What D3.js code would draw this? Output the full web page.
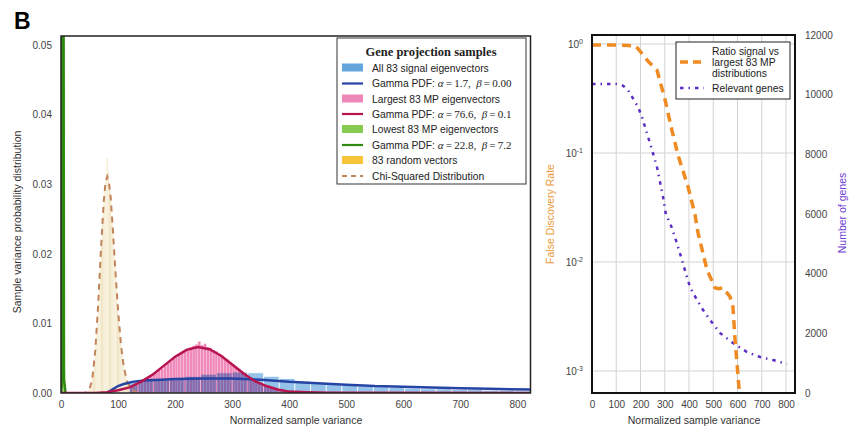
<!DOCTYPE html>
<html><head><meta charset="utf-8">
<script src="https://cdn.jsdelivr.net/npm/d3@7"></script>
<style>
body{margin:0;background:#fff;}
svg{font-family:"Liberation Sans",Arial,sans-serif;background:#fff;}
</style></head><body>
<svg id="c" width="858" height="432"></svg>
<script>
// ---------------- DATA ----------------
// Left panel: histograms (bin edges + densities)
const blueEdges = [80,107.5,135,162.5,190,217.5,245,272.5,300,327.5,355,382.5,410,437.5,465,492.5,520,547.5,575,602.5,630,657.5,685,712.5,740,767.5,795,822.5];
const blueHeights = [0.0009,0.0016,0.0018,0.0019,0.0020,0.0024,0.0027,0.0029,0.0030,0.0029,0.0024,0.0021,0.0016,0.0014,0.0012,0.0011,0.0010,0.0009,0.0008,0.0007,0.0006,0.0006,0.0005,0.0005,0.0004,0.0004,0.0003];

const pinkEdges = [100,105,110,115,120,125,130,135,140,145,150,155,160,165,170,175,180,185,190,195,200,205,210,215,220,225,230,235,240,245,250,255,260,265,270,275,280,285,290,295,300,305,310,315,320,325,330,335,340,345,350,355,360,365,370,375,380,385,390,395,400,405,410,415,420,425,430,435,440,445,450];
const pinkHeights = [0.0004,0.0005,0.0006,0.0007,0.0009,0.0010,0.0012,0.0013,0.0016,0.0018,
0.0021,0.0023,0.0027,0.0029,0.0033,0.0035,0.0039,0.0043,0.0045,0.0049,
0.0051,0.0055,0.0058,0.0060,0.0063,0.0066,0.0068,0.0070,0.0074,0.0069,
0.0071,0.0066,0.0065,0.0062,0.0060,0.0056,0.0054,0.0050,0.0048,0.0044,
0.0041,0.0038,0.0035,0.0031,0.0029,0.0025,0.0023,0.0020,0.0017,0.0015,
0.0013,0.0011,0.0010,0.0008,0.0007,0.0006,0.0005,0.0004,0.0003,0.0003,
0.0002,0.0002,0.0002,0.0001,0.0001,0.0001,0.0001,0.0001,0.0001,0.0001];

const greenEdges = [0,2.5,5,7.5];
const greenHeights = [0.3,0.5,0.003];

const randEdges = [46,48,50,52,54,56,58,60,62,64,66,68,70,72,74,76,78,80,82,84,86,88,90,92,94,96,98,100,102,104,106,108,110,112,114,116,118,120];
const randHeights = [0.0002,0.0005,0.0009,0.0014,0.0022,0.0032,0.0050,0.0068,0.0092,0.0120,
0.0150,0.0185,0.0215,0.0250,0.0272,0.0295,0.0310,0.0338,0.0318,0.0300,
0.0282,0.0255,0.0238,0.0205,0.0182,0.0158,0.0130,0.0110,0.0090,0.0072,
0.0058,0.0044,0.0034,0.0025,0.0019,0.0013,0.0009];

// Left panel: fitted curves
const blueCurveX = [80,90,100,110,125,145,175,200,250,300,350,400,450,500,550,600,650,700,750,823];
const blueCurveY = [0,0.0005,0.0010,0.0013,0.0016,0.0018,0.0019,0.0020,0.0021,0.0021,0.0019,0.0016,0.0014,0.0012,0.0010,0.0009,0.0008,0.0007,0.0006,0.0005];
const redCurveX = [0,60,80,100,120,140,160,180,200,220,240,260,280,300,320,340,360,380,400,430,470,823];
const redCurveY = [0,0,0.0001,0.0004,0.0008,0.0016,0.0026,0.0039,0.0052,0.0062,0.0066,0.0063,0.0054,0.0041,0.0028,0.0017,0.0010,0.0005,0.0002,0.0001,0.00003,0];
const greenCurveX = [0,1.2,1.8,2.4,3.1,3.8,4.5,5.2,8];
const greenCurveY = [0,0.001,0.06,0.4,0.6,0.4,0.06,0.002,0];
const chiX = [35,40,45,50,55,60,65,70,75,78,81,84,87,90,95,100,105,110,115,120,130,140,160];
const chiY = [0,0.00001,0.0001,0.00055,0.0021,0.0060,0.0125,0.0206,0.0276,0.0302,0.0311,0.0303,0.0282,0.0246,0.0180,0.0119,0.0070,0.0038,0.0019,0.0009,0.00015,0.00002,0];

const leftYTicks = [0,0.01,0.02,0.03,0.04,0.05];
const xTicks = [0,100,200,300,400,500,600,700,800];

const legendTitle = "Gene projection samples";
const legendLabels = ["All 83 signal eigenvectors","Gamma PDF: ","Largest 83 MP eigenvectors","Gamma PDF: ","Lowest 83 MP eigenvectors","Gamma PDF: ","83 random vectors","Chi-Squared Distribution"];
const gammaAlpha = ["1.7","76.6","22.8"];
const gammaBeta = ["0.00","0.1","7.2"];

// Right panel
const fdrX = [0,50,100,150,180,200,230,268,301,330,355,396,425,437,474,507,520,540,569,581,590,598,606,612];
const fdrY = [0.98,0.98,0.98,0.97,0.96,0.85,0.70,0.575,0.31,0.16,0.095,0.049,0.027,0.0186,0.0085,0.0058,0.0057,0.0058,0.0048,0.0039,0.0019,0.00117,0.0007,0.0005];
const genesX = [0,50,100,128,148,190,206,239,268,293,305,322,342,371,383,404,433,458,487,528,581,639,693,746,804];
const genesY = [10360,10360,10360,10300,10157,9587,9251,8380,7575,6570,5966,5698,5229,4458,4123,3553,3117,2782,2447,2011,1676,1374,1207,1106,972];
const logTicks = [1,0.1,0.01,0.001];
const logTickExp = ["0","-1","-2","-3"];
const genesTicks = [0,2000,4000,6000,8000,10000,12000];
const rightLegend1 = ["Ratio signal vs","largest 83 MP","distributions"];
const rightLegend2 = "Relevant genes";

// ---------------- DRAW ----------------
const svg = d3.select("#c");
const defs = svg.append("defs");
const L = {l:61,r:530.5,t:36,b:393};
const R = {l:592,r:795,t:35,b:393};
defs.append("clipPath").attr("id","clipL").append("rect").attr("x",L.l).attr("y",L.t).attr("width",L.r-L.l).attr("height",L.b-L.t);
defs.append("clipPath").attr("id","clipR").append("rect").attr("x",R.l).attr("y",R.t).attr("width",R.r-R.l).attr("height",R.b-R.t);

const xL = d3.scaleLinear().domain([0,823]).range([L.l,L.r]);
const yL = d3.scaleLinear().domain([0,0.0513]).range([L.b,L.t]);

const C = {
  blue:"#3d8fd6", pink:"#e7529b", green:"#86cc52", yellow:"#f7c53a", beige:"#eee0b6",
  blueLine:"#2544a3", redLine:"#b8144f", greenLine:"#2f8a10", chi:"#c2845a",
  orange:"#ef8b22", purple:"#5b2dc4"
};

const gL = svg.append("g").attr("clip-path","url(#clipL)");
function bars(g, edges, heights, fill, op, stroke, sw){
  g.selectAll(null).data(heights).enter().append("rect")
    .attr("x",(d,i)=>xL(edges[i]))
    .attr("width",(d,i)=>Math.max(0.3,xL(edges[i+1])-xL(edges[i])))
    .attr("y",d=>yL(d))
    .attr("height",d=>yL(0)-yL(d))
    .attr("fill",fill).attr("fill-opacity",op)
    .attr("stroke",stroke||"none").attr("stroke-width",sw||0.6);
}
const gBlue = gL.append("g");
bars(gBlue, blueEdges, blueHeights, C.blue, 0.55, "#fff", 0.8);
const gPink = gL.append("g").style("mix-blend-mode","multiply");
bars(gPink, pinkEdges, pinkHeights, C.pink, 0.68, "#fff", 0.2);
bars(gL.append("g"), randEdges, randHeights, C.beige, 1, "#fff", 0.3);
bars(gL.append("g"), greenEdges, greenHeights, C.green, 0.9, null);

const lineL = d3.line().x(d=>xL(d[0])).y(d=>yL(d[1]));
gL.append("path").datum(d3.zip(greenCurveX,greenCurveY)).attr("d",lineL).attr("fill","none").attr("stroke",C.greenLine).attr("stroke-width",2.5);
gL.append("path").datum(d3.zip(chiX,chiY)).attr("d",lineL).attr("fill","none").attr("stroke",C.chi).attr("stroke-width",2).attr("stroke-dasharray","6,5");
gL.append("path").datum(d3.zip(blueCurveX,blueCurveY)).attr("d",lineL).attr("fill","none").attr("stroke",C.blueLine).attr("stroke-width",2.5);
gL.append("path").datum(d3.zip(redCurveX,redCurveY)).attr("d",lineL).attr("fill","none").attr("stroke",C.redLine).attr("stroke-width",2.5);

svg.append("rect").attr("x",L.l).attr("y",L.t).attr("width",L.r-L.l).attr("height",L.b-L.t).attr("fill","none").attr("stroke","#222").attr("stroke-width",1.5);

function styleAxis(g){
  g.select(".domain").remove();
  g.attr("font-family",'"Liberation Sans",Arial,sans-serif').attr("font-size",10);
  g.selectAll("text").attr("fill","#444");
}
svg.append("g").attr("transform",`translate(${L.l},0)`)
  .call(d3.axisLeft(yL).tickValues(leftYTicks).tickFormat(d3.format(".2f")).tickSize(0).tickPadding(9)).call(styleAxis);
svg.append("g").attr("transform",`translate(0,${L.b})`)
  .call(d3.axisBottom(xL).tickValues(xTicks).tickFormat(d3.format("d")).tickSize(0).tickPadding(8)).call(styleAxis);

svg.append("text").attr("transform","translate(21,222) rotate(-90)").attr("text-anchor","middle")
  .attr("font-size",10.5).attr("fill","#333").text("Sample variance probability distribution");
svg.append("text").attr("x",296).attr("y",424).attr("text-anchor","middle").attr("font-size",10.5).attr("fill","#333").text("Normalized sample variance");
svg.append("text").attr("x",14).attr("y",29).attr("font-size",23).attr("font-weight","bold").attr("fill","#000").text("B");

// left legend
const lg = svg.append("g");
lg.append("rect").attr("x",337).attr("y",38).attr("width",189).attr("height",146).attr("fill","#fff").attr("stroke","#333").attr("stroke-width",1);
lg.append("text").attr("x",431).attr("y",56).attr("text-anchor","middle").attr("font-family",'"Liberation Serif","DejaVu Serif",serif').attr("font-weight","bold").attr("font-size",12.5).attr("fill","#222").text(legendTitle);
const items = [
  {t:"patch",c:C.blue,op:0.8},{t:"line",c:C.blueLine,g:0},
  {t:"patch",c:C.pink,op:0.7},{t:"line",c:C.redLine,g:1},
  {t:"patch",c:C.green,op:1},{t:"line",c:C.greenLine,g:2},
  {t:"patch",c:C.yellow,op:1},{t:"dash",c:C.chi}
];
const ys = [68,83.5,99,114,129.5,145,160.5,176];
items.forEach((it,i)=>{
  const y = ys[i];
  if(it.t==="patch") lg.append("rect").attr("x",342).attr("y",y-4.5).attr("width",21).attr("height",8).attr("fill",it.c).attr("fill-opacity",it.op);
  else lg.append("line").attr("x1",342).attr("x2",363).attr("y1",y).attr("y2",y).attr("stroke",it.c).attr("stroke-width",it.t==="dash"?1.8:2.2).attr("stroke-dasharray",it.t==="dash"?"5,4":null);
  const tx = lg.append("text").attr("x",372).attr("y",y+3.8).attr("font-size",10.3).attr("fill","#222");
  tx.append("tspan").text(legendLabels[i]);
  if(it.t==="line"){
    const ser = '"Liberation Serif","DejaVu Serif",serif';
    tx.append("tspan").attr("font-family",ser).attr("font-style","italic").attr("font-size",11).text("α");
    tx.append("tspan").attr("font-family",ser).attr("font-size",11).text("\u2009=\u2009"+gammaAlpha[it.g]+",\u2002");
    tx.append("tspan").attr("font-family",ser).attr("font-style","italic").attr("font-size",11).text("β");
    tx.append("tspan").attr("font-family",ser).attr("font-size",11).text("\u2009=\u2009"+gammaBeta[it.g]);
  }
});

// ---------------- RIGHT PANEL ----------------
const xR = d3.scaleLinear().domain([0,837]).range([R.l,R.r]);
const yR = d3.scaleLog().domain([Math.pow(10,-3.202),Math.pow(10,0.083)]).range([R.b,R.t]);
const yR2 = d3.scaleLinear().domain([0,12000]).range([R.b,R.t]);

const grid = svg.append("g");
xTicks.filter(d=>d>0).forEach(d=>grid.append("line").attr("x1",xR(d)).attr("x2",xR(d)).attr("y1",R.t).attr("y2",R.b).attr("stroke","#d3d3d3").attr("stroke-width",1));
logTicks.forEach(d=>grid.append("line").attr("x1",R.l).attr("x2",R.r).attr("y1",yR(d)).attr("y2",yR(d)).attr("stroke","#d3d3d3").attr("stroke-width",1));

const gR = svg.append("g").attr("clip-path","url(#clipR)");
gR.append("path").datum(d3.zip(genesX,genesY)).attr("d",d3.line().x(d=>xR(d[0])).y(d=>yR2(d[1])))
  .attr("fill","none").attr("stroke",C.purple).attr("stroke-width",2.5).attr("stroke-dasharray","3.5,5,1.5,5");
gR.append("path").datum(d3.zip(fdrX,fdrY)).attr("d",d3.line().x(d=>xR(d[0])).y(d=>yR(d[1])))
  .attr("fill","none").attr("stroke",C.orange).attr("stroke-width",3.5).attr("stroke-dasharray","9,6");

svg.append("rect").attr("x",R.l).attr("y",R.t).attr("width",R.r-R.l).attr("height",R.b-R.t).attr("fill","none").attr("stroke","#111").attr("stroke-width",2);

svg.append("g").attr("transform",`translate(0,${R.b})`)
  .call(d3.axisBottom(xR).tickValues(xTicks).tickFormat(d3.format("d")).tickSize(0).tickPadding(8)).call(styleAxis);
const ay = svg.append("g").attr("transform",`translate(${R.l},0)`)
  .call(d3.axisLeft(yR).tickValues(logTicks).tickSize(0).tickPadding(9)).call(styleAxis);
ay.selectAll("text").each(function(d,i){
  const t = d3.select(this); t.text("10");
  t.append("tspan").attr("dy","-0.55em").attr("font-size",7).text(logTickExp[logTicks.indexOf(d)]);
});
svg.append("g").attr("transform",`translate(${R.r},0)`)
  .call(d3.axisRight(yR2).tickValues(genesTicks).tickFormat(d3.format("d")).tickSize(0).tickPadding(10)).call(styleAxis);

svg.append("text").attr("transform","translate(554,214) rotate(-90)").attr("text-anchor","middle").attr("font-size",10.5).attr("fill","#eb9a3a").text("False Discovery Rate");
svg.append("text").attr("transform","translate(846,213) rotate(-90)").attr("text-anchor","middle").attr("font-size",10.5).attr("fill","#6a3cd0").text("Number of genes");
svg.append("text").attr("x",694).attr("y",424).attr("text-anchor","middle").attr("font-size",10.5).attr("fill","#333").text("Normalized sample variance");

// right legend
const rl = svg.append("g");
rl.append("rect").attr("x",676).attr("y",42).attr("width",114).attr("height",57).attr("fill","#fff").attr("stroke","#222").attr("stroke-width",1);
rightLegend1.forEach((s,i)=>rl.append("text").attr("x",712).attr("y",54.5+i*11).attr("font-size",10.3).attr("fill","#222").text(s));
rl.append("line").attr("x1",680).attr("x2",704).attr("y1",62).attr("y2",62).attr("stroke",C.orange).attr("stroke-width",3.5).attr("stroke-dasharray","8,5");
rl.append("line").attr("x1",680).attr("x2",704).attr("y1",88).attr("y2",88).attr("stroke",C.purple).attr("stroke-width",2.5).attr("stroke-dasharray","3.5,5,1.5,5");
rl.append("text").attr("x",712).attr("y",91.5).attr("font-size",10.3).attr("fill","#222").text(rightLegend2);
</script>
</body></html>
